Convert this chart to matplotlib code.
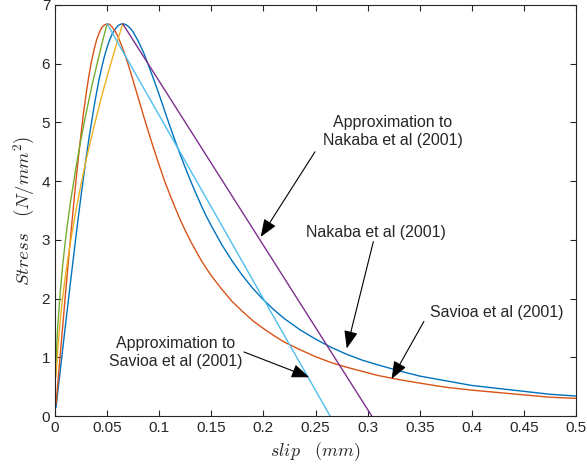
import numpy as np
import matplotlib.pyplot as plt
from matplotlib.ticker import FormatStrFormatter

plt.rcParams['font.family'] = ['Liberation Sans', 'DejaVu Sans']
plt.rcParams['mathtext.fontset'] = 'cm'

# Nakaba et al (2001)
nak_s = [0.001, 0.0025, 0.005, 0.0075, 0.01, 0.0125, 0.015, 0.0175, 0.02, 0.0225, 0.025, 0.0275,
         0.03, 0.0325, 0.035, 0.0375, 0.04, 0.0425, 0.045, 0.0475, 0.05, 0.0525, 0.055, 0.0575,
         0.06, 0.0625, 0.065, 0.0675, 0.07, 0.0725, 0.075, 0.08, 0.085, 0.09, 0.095, 0.1, 0.105,
         0.11, 0.115, 0.12, 0.125, 0.13, 0.135, 0.14, 0.145, 0.15, 0.16, 0.17, 0.18, 0.19, 0.2,
         0.21, 0.22, 0.235, 0.25, 0.265, 0.28, 0.295, 0.31, 0.33, 0.35, 0.375, 0.4, 0.425, 0.45,
         0.475, 0.5]
nak_t = [0.15, 0.385, 0.77, 1.155, 1.54, 1.92, 2.30, 2.67, 3.04, 3.40, 3.75, 4.08,
         4.41, 4.72, 5.00, 5.27, 5.52, 5.75, 5.95, 6.13, 6.28, 6.41, 6.51, 6.58,
         6.64, 6.67, 6.68, 6.67, 6.64, 6.60, 6.54, 6.38, 6.19, 5.96, 5.72, 5.47, 5.21,
         4.95, 4.70, 4.46, 4.23, 4.01, 3.80, 3.60, 3.41, 3.24, 2.92, 2.64, 2.39, 2.17, 1.98,
         1.81, 1.66, 1.47, 1.31, 1.17, 1.05, 0.95, 0.87, 0.77, 0.68, 0.60, 0.52, 0.47, 0.42,
         0.37, 0.34]

# Savioa et al (2001)
sav_s = [0.001, 0.0025, 0.005, 0.0075, 0.01, 0.0125, 0.015, 0.0175, 0.02, 0.0225, 0.025, 0.0275,
         0.03, 0.0325, 0.035, 0.0375, 0.04, 0.0425, 0.045, 0.0475, 0.05, 0.0525, 0.055, 0.0575,
         0.06, 0.0625, 0.065, 0.0675, 0.07, 0.075, 0.08, 0.085, 0.09, 0.095, 0.1, 0.105,
         0.11, 0.115, 0.12, 0.125, 0.13, 0.135, 0.14, 0.145, 0.15, 0.16, 0.17, 0.18, 0.19, 0.2,
         0.21, 0.22, 0.235, 0.25, 0.265, 0.28, 0.295, 0.31, 0.33, 0.35, 0.375, 0.4, 0.425, 0.45,
         0.475, 0.5]
sav_t = [0.21, 0.52, 1.04, 1.55, 2.07, 2.57, 3.06, 3.53, 3.99, 4.41, 4.81, 5.18,
         5.50, 5.79, 6.04, 6.24, 6.41, 6.53, 6.62, 6.66, 6.68, 6.67, 6.62, 6.56,
         6.48, 6.37, 6.26, 6.13, 6.00, 5.71, 5.41, 5.11, 4.82, 4.54, 4.27, 4.01,
         3.78, 3.56, 3.35, 3.16, 2.98, 2.82, 2.66, 2.52, 2.39, 2.16, 1.95, 1.78, 1.62, 1.49,
         1.37, 1.26, 1.13, 1.01, 0.91, 0.83, 0.76, 0.69, 0.62, 0.56, 0.49, 0.44, 0.40, 0.36,
         0.32, 0.30]

# approximation to Nakaba: rising branch (yellow) + linear softening (purple)
apn_up_s = [0.001, 0.0025, 0.005, 0.0075, 0.01, 0.0125, 0.015, 0.02, 0.025, 0.03, 0.035, 0.04,
            0.045, 0.05, 0.055, 0.06, 0.065]
apn_up_t = [0.67, 1.11, 1.63, 2.04, 2.39, 2.70, 2.98, 3.49, 3.95, 4.37, 4.75, 5.11,
            5.46, 5.78, 6.09, 6.39, 6.68]
apn_dn_s = [0.065, 0.304]
apn_dn_t = [6.68, 0.0]

# approximation to Savioa: rising branch (green) + linear softening (light blue)
aps_up_s = [0.001, 0.0015, 0.0025, 0.005, 0.0075, 0.01, 0.0125, 0.015, 0.02, 0.025, 0.03, 0.035,
            0.04, 0.045, 0.05]
aps_up_t = [0.94, 1.16, 1.49, 2.11, 2.59, 2.99, 3.34, 3.66, 4.22, 4.72, 5.17, 5.59,
            5.97, 6.34, 6.68]
aps_dn_s = [0.05, 0.264]
aps_dn_t = [6.68, 0.0]

fig = plt.figure(figsize=(5.87, 4.69), dpi=100)
ax = fig.add_axes([55 / 587, 53 / 469, 521 / 587, 411 / 469])

ax.plot(nak_s, nak_t, color='#0072BD', lw=1.0)
ax.plot(sav_s, sav_t, color='#D95319', lw=1.0)
ax.plot(apn_up_s, apn_up_t, color='#EDB120', lw=1.0)
ax.plot(apn_dn_s, apn_dn_t, color='#7E2F8E', lw=1.0)
ax.plot(aps_up_s, aps_up_t, color='#77AC30', lw=1.0)
ax.plot(aps_dn_s, aps_dn_t, color='#4DBEEE', lw=1.0)

ax.set_xlim(0, 0.5)
ax.set_ylim(0, 7)
ax.set_xticks(np.arange(0, 0.51, 0.05))
ax.set_yticks(range(8))
ax.xaxis.set_major_formatter(FormatStrFormatter('%g'))

axc = '#262626'
for sp in ax.spines.values():
    sp.set_color(axc)
    sp.set_linewidth(0.8)
ax.tick_params(direction='in', length=4, width=0.8, color=axc, labelcolor=axc,
               labelsize=11, top=True, right=True)

ax.set_xlabel(r'$slip \quad (mm)$', fontsize=13, color=axc, labelpad=4)
ax.set_ylabel(r'$Stress \quad (N/mm^2)$', fontsize=13.5, color=axc, labelpad=3)

arr = dict(arrowstyle='-|>,head_length=0.9,head_width=0.35', color='black', lw=0.8,
           mutation_scale=12, shrinkA=0, shrinkB=0)
fs = 11.4

ax.text(0.3244, 4.84, 'Approximation to\nNakaba et al (2001)', ha='center', va='center',
        multialignment='center', fontsize=fs, color=axc, linespacing=1.25)
ax.annotate('', xy=(0.1974, 3.05), xytext=(0.2495, 4.50), arrowprops=arr)

ax.text(0.308, 3.13, 'Nakaba et al (2001)', ha='center', va='center', fontsize=fs, color=axc)
ax.annotate('', xy=(0.280, 1.15), xytext=(0.3055, 2.97), arrowprops=arr)

ax.text(0.424, 1.77, 'Savioa et al (2001)', ha='center', va='center', fontsize=fs, color=axc)
ax.annotate('', xy=(0.323, 0.63), xytext=(0.354, 1.61), arrowprops=arr)

ax.text(0.116, 1.08, 'Approximation to\nSavioa et al (2001)', ha='center', va='center',
        multialignment='center', fontsize=fs, color=axc, linespacing=1.25)
ax.annotate('', xy=(0.244, 0.66), xytext=(0.1814, 1.09), arrowprops=arr)

plt.savefig('out.png', dpi=100)
